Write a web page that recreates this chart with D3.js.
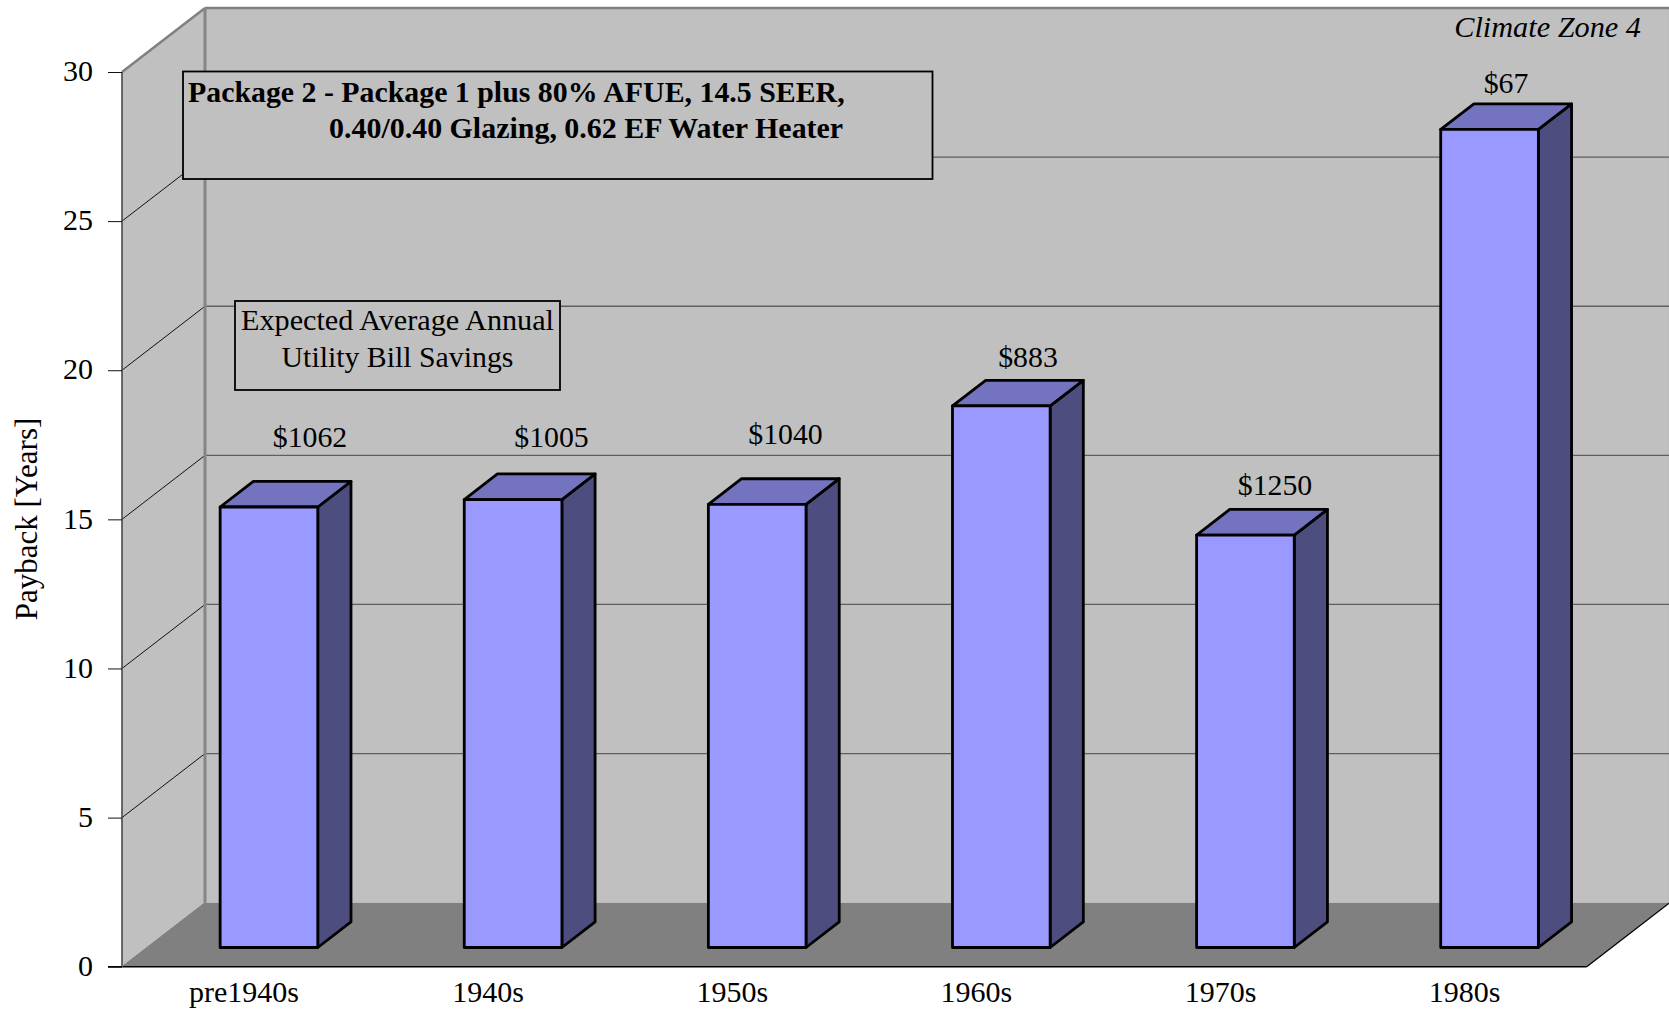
<!DOCTYPE html>
<html>
<head>
<meta charset="utf-8">
<script src="https://cdnjs.cloudflare.com/ajax/libs/d3/7.8.5/d3.min.js"></script>
<style>
  html, body { margin: 0; padding: 0; background: #fff; }
  svg { display: block; }
  text { font-family: "Liberation Serif", "Times New Roman", serif; fill: #000; }
</style>
</head>
<body>
<svg id="chart" width="1669" height="1012"></svg>
<script>
// Payback period by vintage, with expected annual savings printed over each column
const categories = ["pre1940s", "1940s", "1950s", "1960s", "1970s", "1980s"];
const paybackYears = [14.77, 15.02, 14.86, 18.16, 13.83, 27.43];
const savingsLabels = ["$1062", "$1005", "$1040", "$883", "$1250", "$67"];
const yTicks = [0, 5, 10, 15, 20, 25, 30];

// Oblique projection used for the box: depth 0 is the front edge, 1 the back wall
const depthX = 83, depthY = -64;
const x = d3.scaleBand().domain(categories).range([122, 1586.7]).paddingInner(0.6).paddingOuter(0.3);
const xCenter = d3.scaleBand().domain(categories).range([122, 1586.7]);
const y = d3.scaleLinear().domain([0, 30]).range([966.7, 72]);
const project = (px, value, depth) => [px + depthX * depth, y(value) + depthY * depth];
const frontDepth = 0.3, backDepth = 0.7;

const svg = d3.select("#chart");
const poly = (pts, fill, g = svg) => g.append("polygon")
  .attr("points", pts.map(p => p.join(",")).join(" "))
  .attr("fill", fill);

const left = 122, right = 1586.7;

// Walls and floor
poly([project(left, 0, 1), project(right, 0, 1), project(right, 30, 1), project(left, 30, 1)], "#c0c0c0");
poly([project(left, 0, 0), project(left, 0, 1), project(left, 30, 1), project(left, 30, 0)], "#c0c0c0");
poly([project(left, 0, 0), project(right, 0, 0), project(right, 0, 1), project(left, 0, 1)], "#808080");

// Gridlines on the back wall and across the side wall
const grid = svg.append("g").attr("fill", "none");
yTicks.filter(t => t > 0 && t < 30).forEach(t => {
  grid.append("line")
    .attr("x1", project(left, t, 1)[0]).attr("y1", project(left, t, 1)[1])
    .attr("x2", project(right, t, 1)[0]).attr("y2", project(right, t, 1)[1])
    .attr("stroke", "#5f5f5f").attr("stroke-width", 1.3);
  grid.append("line")
    .attr("x1", project(left, t, 0)[0]).attr("y1", project(left, t, 0)[1])
    .attr("x2", project(left, t, 1)[0]).attr("y2", project(left, t, 1)[1])
    .attr("stroke", "#111").attr("stroke-width", 1);
});

// Wall edges
const edge = (a, b, stroke, w) => svg.append("line")
  .attr("x1", a[0]).attr("y1", a[1]).attr("x2", b[0]).attr("y2", b[1])
  .attr("stroke", stroke).attr("stroke-width", w);
edge(project(left, 30, 0), project(left, 30, 1), "#808080", 2.5);
edge(project(left, 30, 1), project(right, 30, 1), "#808080", 2.5);
edge(project(left, 30, 1), project(left, 0, 1), "#858585", 3);
edge(project(right, 30, 1), project(right, 0, 1), "#808080", 1.5);

// Front axes
edge(project(left, 0, 0), project(left, 30, 0), "#4a4a4a", 1.6);
edge([108, y(0)], project(right, 0, 0), "#000", 1.6);
edge(project(right, 0, 0), project(right, 0, 1), "#000", 1.3);
edge(project(left, 0, 0), project(left, 0, 1), "#777", 1);

// Y axis through d3.axisLeft: tick marks and numbers
const yAxis = svg.append("g").attr("transform", `translate(${left},0)`)
  .call(d3.axisLeft(y).tickValues(yTicks).tickSize(14).tickPadding(15));
yAxis.select(".domain").remove();
yAxis.selectAll("line").attr("stroke", "#111").attr("stroke-width", 1);
yAxis.selectAll("text").attr("font-size", 30).attr("font-family", "Liberation Serif")
  .attr("dy", "0.29em");

svg.append("text")
  .attr("transform", "translate(37,519) rotate(-90)")
  .attr("text-anchor", "middle").attr("font-size", 31)
  .text("Payback [Years]");

// Columns: front, top and side faces
const bars = svg.append("g");
categories.forEach((c, i) => {
  const v = paybackYears[i], x0 = x(c), x1 = x0 + x.bandwidth();
  const g = bars.append("g").attr("stroke", "#000").attr("stroke-width", 2.8).attr("stroke-linejoin", "round");
  poly([project(x1, 0, frontDepth), project(x1, 0, backDepth), project(x1, v, backDepth), project(x1, v, frontDepth)], "#4d4d80", g);
  poly([project(x0, v, frontDepth), project(x1, v, frontDepth), project(x1, v, backDepth), project(x0, v, backDepth)], "#7373bf", g);
  poly([project(x0, 0, frontDepth), project(x1, 0, frontDepth), project(x1, v, frontDepth), project(x0, v, frontDepth)], "#9999ff", g);
});

// Savings labels, placed by hand above each column
const labelCenters = [310, 551.5, 785.5, 1028, 1275, 1506];
const labelBaselines = [447, 447, 444, 367, 495, 93];
svg.append("g").selectAll("text").data(savingsLabels).join("text")
  .attr("x", (d, i) => labelCenters[i]).attr("y", (d, i) => labelBaselines[i])
  .attr("text-anchor", "middle").attr("font-size", 29.8)
  .text(d => d);

// Category labels
svg.append("g").selectAll("text").data(categories).join("text")
  .attr("x", d => xCenter(d) + xCenter.bandwidth() / 2)
  .attr("y", 1002)
  .attr("text-anchor", "middle").attr("font-size", 30)
  .text(d => d);

// Annotations
svg.append("text").attr("x", 1641).attr("y", 37)
  .attr("text-anchor", "end").attr("font-size", 30.3).attr("font-style", "italic")
  .text("Climate Zone 4");

const noteBox = (bx, by, bw, bh) => svg.append("rect")
  .attr("x", bx).attr("y", by).attr("width", bw).attr("height", bh)
  .attr("fill", "#c0c0c0").attr("stroke", "#000").attr("stroke-width", 1.8);

noteBox(183, 71.5, 749.5, 107.5);
svg.append("text").attr("x", 188).attr("y", 102).attr("font-size", 29.85).attr("font-weight", "bold")
  .text("Package 2 - Package 1 plus 80% AFUE, 14.5 SEER,");
svg.append("text").attr("x", 329).attr("y", 138).attr("font-size", 29.95).attr("font-weight", "bold")
  .text("0.40/0.40 Glazing, 0.62 EF Water Heater");

noteBox(235, 301, 325, 89);
svg.append("text").attr("x", 397.5).attr("y", 330).attr("text-anchor", "middle").attr("font-size", 30.2)
  .text("Expected Average Annual");
svg.append("text").attr("x", 397.5).attr("y", 367).attr("text-anchor", "middle").attr("font-size", 29.8)
  .text("Utility Bill Savings");
</script>
</body>
</html>
